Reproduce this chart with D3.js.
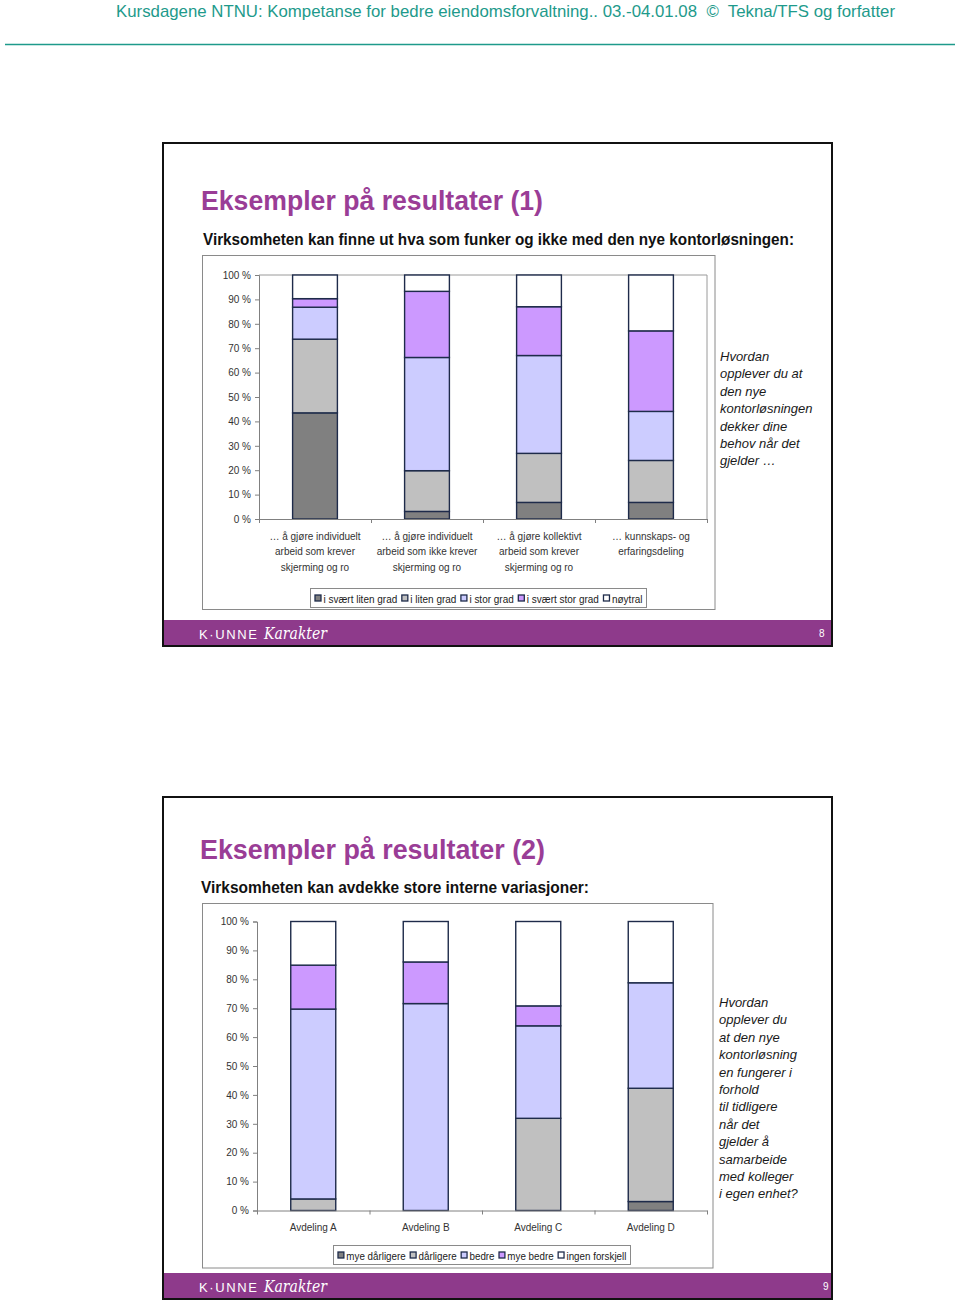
<!DOCTYPE html>
<html><head><meta charset="utf-8">
<script src="https://cdn.jsdelivr.net/npm/d3@7"></script>
<style>body{margin:0;background:#fff}svg{display:block}</style>
</head><body>
<script>
// ---------- DATA: slide 1 ----------
const keys1 = ["i svært liten grad", "i liten grad", "i stor grad", "i svært stor grad", "nøytral"];
const categories1 = [
  ["… å gjøre individuelt", "arbeid som krever", "skjerming og ro"],
  ["… å gjøre individuelt", "arbeid som ikke krever", "skjerming og ro"],
  ["… å gjøre kollektivt", "arbeid som krever", "skjerming og ro"],
  ["… kunnskaps- og", "erfaringsdeling"]
];
const svaertLitenGrad = [43.5, 3.1, 6.8, 6.8];
const litenGrad       = [30.2, 16.7, 20.1, 17.2];
const storGrad        = [13.1, 46.4, 40.1, 20.1];
const svaertStorGrad  = [3.5, 27.1, 20.0, 33.0];
const noytral         = [9.7, 6.7, 13.0, 22.9];
const note1 = ["Hvordan", "opplever du at", "den nye", "kontorløsningen", "dekker dine", "behov når det", "gjelder …"];

// ---------- DATA: slide 2 ----------
const keys2 = ["mye dårligere", "dårligere", "bedre", "mye bedre", "ingen forskjell"];
const categories2 = [["Avdeling A"], ["Avdeling B"], ["Avdeling C"], ["Avdeling D"]];
const myeDarligere  = [0, 0, 0, 3.1];
const darligere     = [4.0, 0, 31.9, 39.2];
const bedre         = [65.7, 71.6, 32.0, 36.5];
const myeBedre      = [15.2, 14.4, 6.9, 0];
const ingenForskjell= [15.1, 14.0, 29.2, 21.2];
const note2 = ["Hvordan", "opplever du", "at den nye", "kontorløsning", "en fungerer i", "forhold", "til tidligere", "når det", "gjelder å", "samarbeide", "med kolleger", "i egen enhet?"];

const yTicks = [0, 10, 20, 30, 40, 50, 60, 70, 80, 90, 100];
const palette = ["#808080", "#c0c0c0", "#ccccff", "#cc99ff", "#ffffff"];

// ---------- DRAW ----------
const FONT = "'Liberation Sans', Arial, sans-serif";
const svg = d3.select("body").append("svg").attr("width", 960).attr("height", 1304);

svg.append("text").attr("x", 116).attr("y", 17).attr("font-family", FONT).attr("font-size", 17)
  .attr("fill", "#1e9a8b").attr("textLength", 779).attr("lengthAdjust", "spacingAndGlyphs")
  .style("white-space", "pre")
  .text("Kursdagene NTNU: Kompetanse for bedre eiendomsforvaltning.. 03.-04.01.08  ©  Tekna/TFS og forfatter");
svg.append("line").attr("x1", 5).attr("x2", 955).attr("y1", 44.5).attr("y2", 44.5)
  .attr("stroke", "#1e9a8b").attr("stroke-width", 1.5);

function slide(o) {
  const g = svg.append("g");
  g.append("rect").attr("x", 163).attr("y", o.top).attr("width", 669).attr("height", o.h)
    .attr("fill", "#fff").attr("stroke", "#111").attr("stroke-width", 2);
  g.append("rect").attr("x", 164).attr("y", o.band).attr("width", 667).attr("height", o.top + o.h - o.band - 1)
    .attr("fill", "#8e3a8b");
  g.append("text").attr("x", 199).attr("y", o.band + 19).attr("font-family", FONT).attr("font-size", 13)
    .attr("fill", "#fff").attr("textLength", 58).attr("lengthAdjust", "spacing").text("K·UNNE");
  g.append("text").attr("x", 264).attr("y", o.band + 19).attr("font-family", "'DejaVu Serif', serif")
    .attr("font-style", "italic").attr("font-size", 17).attr("fill", "#fff")
    .attr("textLength", 63).attr("lengthAdjust", "spacingAndGlyphs").text("Karakter");
  g.append("text").attr("x", o.pageX).attr("y", o.band + 17).attr("font-family", FONT).attr("font-size", 10)
    .attr("fill", "#fff").text(o.page);
  g.append("text").attr("x", o.titleX).attr("y", o.titleY).attr("font-family", FONT).attr("font-weight", "bold")
    .attr("font-size", 28).attr("fill", "#9a3d96").attr("textLength", o.titleW)
    .attr("lengthAdjust", "spacingAndGlyphs").text(o.title);
  g.append("text").attr("x", o.subX).attr("y", o.subY).attr("font-family", FONT).attr("font-weight", "bold")
    .attr("font-size", 16).attr("fill", "#111").attr("textLength", o.subW)
    .attr("lengthAdjust", "spacingAndGlyphs").text(o.sub);
}

function chart(o) {
  const g = svg.append("g");
  g.append("rect").attr("x", o.box.x).attr("y", o.box.y).attr("width", o.box.w).attr("height", o.box.h)
    .attr("fill", "#fff").attr("stroke", "#8a8a8a").attr("stroke-width", 1);
  const n = o.categories.length;
  const data = o.categories.map((c, i) => {
    const r = { i };
    o.keys.forEach((k, j) => r[k] = o.values[j][i]);
    return r;
  });
  const stacked = d3.stack().keys(o.keys)(data);
  const x = d3.scaleBand().domain(d3.range(n)).range([o.x0, o.x1]).paddingInner(0.6).paddingOuter(0.3);
  const xl = d3.scaleLinear().domain([0, n]).range([o.x0, o.x1]);
  const y = d3.scaleLinear().domain([0, 100]).range([o.y0, o.y1]);

  if (o.plotBorder) {
    g.append("path").attr("d", `M${o.x0},${y(100)}H${o.x1}V${o.y0}`)
      .attr("fill", "none").attr("stroke", "#9a9a9a").attr("stroke-width", 1);
  }

  stacked.forEach((layer, j) => {
    g.append("g").selectAll("rect").data(layer.filter(d => d[1] - d[0] > 0)).join("rect")
      .attr("x", d => x(d.data.i)).attr("width", x.bandwidth())
      .attr("y", d => y(d[1])).attr("height", d => y(d[0]) - y(d[1]))
      .attr("fill", palette[j]).attr("stroke", "#1e2b4a").attr("stroke-width", 1.4);
  });

  const ya = g.append("g").attr("transform", `translate(${o.x0},0)`)
    .call(d3.axisLeft(y).tickValues(yTicks).tickFormat(d => d + " %").tickSize(4).tickPadding(4));
  const xa = g.append("g").attr("transform", `translate(0,${o.y0})`)
    .call(d3.axisBottom(xl).tickValues(d3.range(n + 1)).tickFormat("").tickSize(4).tickSizeOuter(0));
  [ya, xa].forEach(a => {
    a.selectAll("path,line").attr("stroke", "#808080");
    a.selectAll("text").attr("font-family", FONT).attr("font-size", 10).attr("fill", "#333");
  });

  o.categories.forEach((lines, i) => {
    lines.forEach((t, k) => {
      g.append("text").attr("x", x(i) + x.bandwidth() / 2).attr("y", o.labelY + k * 15.3)
        .attr("text-anchor", "middle").attr("font-family", FONT).attr("font-size", 10)
        .attr("fill", "#333").text(t);
    });
  });

  // legend
  const lg = g.append("g");
  lg.append("rect").attr("x", o.leg.x).attr("y", o.leg.y).attr("width", o.leg.w).attr("height", o.leg.h)
    .attr("fill", "#fff").attr("stroke", "#8a8a8a");
  const items = lg.append("g");
  let cx = 0;
  o.keys.forEach((k, j) => {
    items.append("rect").attr("x", cx + 0.5).attr("y", -7.5).attr("width", 6).attr("height", 6)
      .attr("fill", palette[j]).attr("stroke", "#1e2b4a").attr("stroke-width", 1.3);
    const t = items.append("text").attr("x", cx + 9).attr("y", 0).attr("font-family", FONT)
      .attr("font-size", 10).attr("fill", "#222").text(k);
    cx += 9 + t.node().getComputedTextLength() + 4;
  });
  const tw = cx - 4;
  const avail = o.leg.w - 8;
  const s = Math.min(1, avail / tw);
  items.attr("transform", `translate(${o.leg.x + (o.leg.w - tw * s) / 2},${o.leg.y + o.leg.h - 5}) scale(${s},1)`);

  o.note.forEach((t, k) => {
    g.append("text").attr("x", o.noteX).attr("y", o.noteY + k * 17.4).attr("font-family", FONT)
      .attr("font-style", "italic").attr("font-size", 13).attr("fill", "#1a1a1a").text(t);
  });
}

slide({ top: 143, h: 503, band: 620, page: "8", pageX: 819, title: "Eksempler på resultater (1)",
  titleX: 201, titleY: 210, titleW: 342,
  sub: "Virksomheten kan finne ut hva som funker og ikke med den nye kontorløsningen:", subX: 203, subY: 245, subW: 591 });
slide({ top: 797, h: 502, band: 1273, page: "9", pageX: 823, title: "Eksempler på resultater (2)",
  titleX: 200, titleY: 859, titleW: 345,
  sub: "Virksomheten kan avdekke store interne variasjoner:", subX: 201, subY: 893, subW: 388 });

chart({ keys: keys1, categories: categories1,
  values: [svaertLitenGrad, litenGrad, storGrad, svaertStorGrad, noytral],
  box: { x: 202.5, y: 255.5, w: 512.5, h: 354 }, x0: 259, x1: 707, y0: 519, y1: 275,
  plotBorder: true, labelY: 540,
  leg: { x: 310.5, y: 588.5, w: 336, h: 19 }, note: note1, noteX: 720, noteY: 361 });

chart({ keys: keys2, categories: categories2,
  values: [myeDarligere, darligere, bedre, myeBedre, ingenForskjell],
  box: { x: 202.5, y: 903.5, w: 510.5, h: 364.5 }, x0: 257, x1: 707, y0: 1210.5, y1: 921.5,
  plotBorder: false, labelY: 1231,
  leg: { x: 333.5, y: 1245.5, w: 297, h: 19 }, note: note2, noteX: 719, noteY: 1007 });
</script>
</body></html>
